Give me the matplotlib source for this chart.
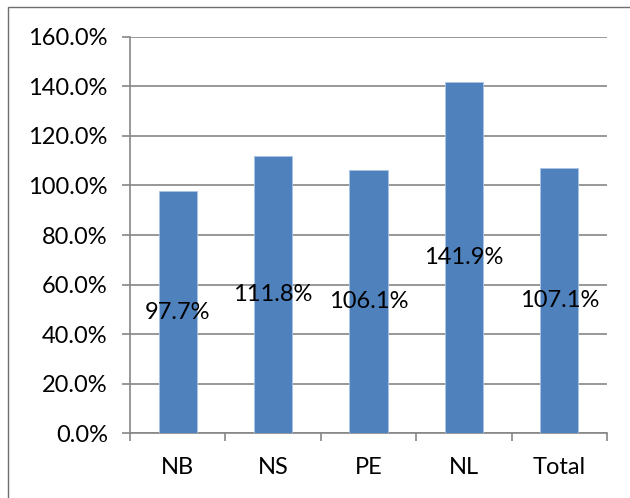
import matplotlib.pyplot as plt
from matplotlib.patches import Rectangle
from matplotlib.ticker import FixedLocator

# Data
regions = ["NB", "NS", "PE", "NL", "Total"]
ratios = [97.7, 111.8, 106.1, 141.9, 107.1]
y_ticks = [0, 20, 40, 60, 80, 100, 120, 140, 160]

plt.rcParams['font.family'] = ['Lato', 'DejaVu Sans']

fig = plt.figure(figsize=(6.3, 4.98), dpi=100)
ax = fig.add_axes([130 / 630, 1 - 433 / 498, 477 / 630, 396 / 498])

# outer frame (left and top edges visible)
fig.patches.append(Rectangle((8 / 630, -0.1), 1.2, 1 - 7 / 498 + 0.1,
                             transform=fig.transFigure, fill=False,
                             edgecolor='#6f6f6f', linewidth=1.0))

x = list(range(len(regions)))
ax.bar(x, ratios, width=0.4, color='#4f81bd', edgecolor='#a9c4e6', linewidth=0.6, zorder=3)

for xi, v in zip(x, ratios):
    ax.text(xi, v / 2, f"{v:.1f}%", ha='center', va='center', fontsize=17, color='black', zorder=4)

ax.set_xlim(-0.5, len(regions) - 0.5)
ax.set_ylim(0, 160)
ax.set_yticks(y_ticks)
ax.set_yticklabels([f"{t:.1f}%" for t in y_ticks], fontsize=17)
ax.yaxis.grid(True, color='#868686', linewidth=1.2, zorder=0)

ax.set_xticks(x)
ax.set_xticklabels(regions, fontsize=17)
ax.tick_params(axis='x', length=0, pad=17)
ax.xaxis.set_minor_locator(FixedLocator([i - 0.5 for i in range(len(regions) + 1)]))
ax.tick_params(axis='x', which='minor', length=6, color='#868686', width=1.2)
ax.tick_params(axis='y', length=6, color='#868686', width=1.2, pad=10)

for side in ['top', 'right']:
    ax.spines[side].set_visible(False)
for side in ['left', 'bottom']:
    ax.spines[side].set_color('#868686')
    ax.spines[side].set_linewidth(1.2)

fig.savefig("out.png", dpi=100)
